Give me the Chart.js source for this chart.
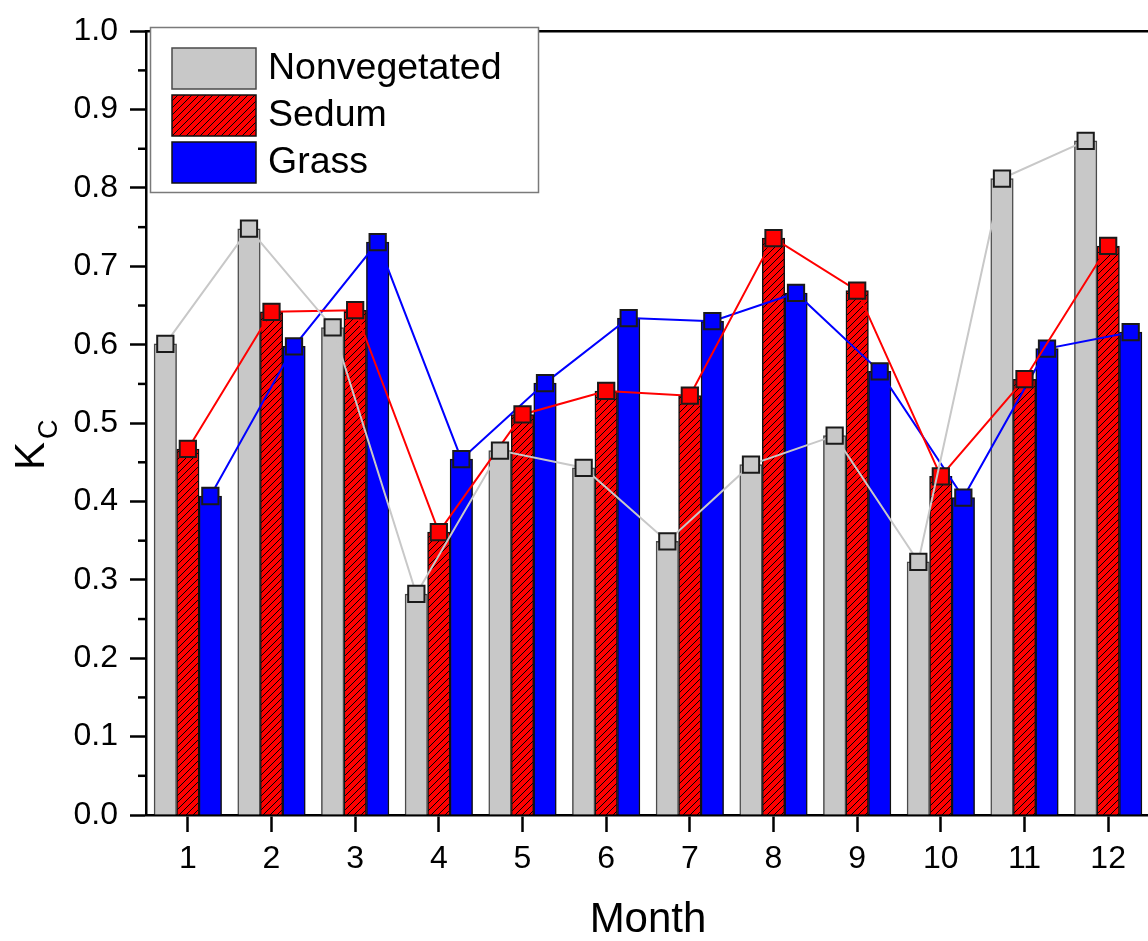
<!DOCTYPE html>
<html>
<head>
<meta charset="utf-8">
<script src="https://cdn.jsdelivr.net/npm/chart.js@4.4.0/dist/chart.umd.min.js"></script>
<style>
  html, body { margin: 0; padding: 0; background: #fff; overflow: hidden; }
  #wrap { position: relative; width: 1150px; height: 941px; }
</style>
</head>
<body>
<div id="wrap"><canvas id="c"></canvas></div>
<script>
// Monthly crop coefficient (Kc) for three roof covers
const months = ['1', '2', '3', '4', '5', '6', '7', '8', '9', '10', '11', '12'];
const seriesNames = ['Nonvegetated', 'Sedum', 'Grass'];
const nonvegetated = [0.601, 0.748, 0.622, 0.282, 0.465, 0.443, 0.349, 0.447, 0.484, 0.323, 0.812, 0.860];
const sedum        = [0.467, 0.642, 0.644, 0.361, 0.511, 0.541, 0.535, 0.736, 0.669, 0.432, 0.556, 0.726];
const grass        = [0.407, 0.598, 0.731, 0.454, 0.551, 0.634, 0.630, 0.666, 0.566, 0.405, 0.595, 0.616];
const yTitleMain = 'K';
const yTitleSub = 'C';
const xTitle = 'Month';

const FONT = "'Liberation Sans', Arial, sans-serif";
const BAR_UNIT = 0.269;   // one bar's width, in months; three bars side by side per month

const canvas = document.getElementById('c');
const ctx0 = canvas.getContext('2d');

// red fill with black "///" hatching
function hatchPattern() {
  const s = 7;
  const c = document.createElement('canvas');
  c.width = s; c.height = s;
  const g = c.getContext('2d');
  g.fillStyle = '#ff0000';
  g.fillRect(0, 0, s, s);
  g.strokeStyle = '#000';
  g.lineWidth = 1.0;
  g.beginPath();
  g.moveTo(0, s); g.lineTo(s, 0);
  g.moveTo(-1, 1); g.lineTo(1, -1);
  g.moveTo(s - 1, s + 1); g.lineTo(s + 1, s - 1);
  g.stroke();
  return ctx0.createPattern(c, 'repeat');
}
const hatch = hatchPattern();

const styles = [
  { fill: '#c8c8c8', edge: '#4a4a4a', line: '#c8c8c8', marker: '#c8c8c8' },
  { fill: hatch,     edge: '#111111', line: '#ff0000', marker: '#ff0000' },
  { fill: '#0000ff', edge: '#111111', line: '#0000ff', marker: '#0000ff' }
];
const series = [nonvegetated, sedum, grass];

// x position of series k in a given month (bars sit side by side, centred on the month)
const xOf = (i, k) => Number(months[i]) + (k - 1) * BAR_UNIT;

const barSets = series.map((vals, k) => ({
  type: 'bar',
  label: seriesNames[k],
  data: vals.map((v, i) => ({ x: xOf(i, k), y: v })),
  grouped: false,
  backgroundColor: styles[k].fill,
  borderColor: styles[k].edge,
  borderWidth: 1.5,
  categoryPercentage: 1.0,
  barPercentage: 1.0,
  order: 2
}));

const lineSets = series.map((vals, k) => ({
  type: 'line',
  label: seriesNames[k] + ' trend',
  data: vals.map((v, i) => ({ x: xOf(i, k), y: v })),
  borderColor: styles[k].line,
  borderWidth: 2,
  tension: 0,
  fill: false,
  pointStyle: 'rect',
  pointRadius: 11.5,
  pointHoverRadius: 11.5,
  pointBackgroundColor: styles[k].marker,
  pointBorderColor: '#1a1a1a',
  pointBorderWidth: 2,
  order: 1
}));

// in-plot legend, minor ticks, top frame line and the Kc title
const decorations = {
  id: 'decorations',
  afterDraw(chart) {
    const ctx = chart.ctx;
    const area = chart.chartArea;
    const y = chart.scales.y;

    ctx.save();
    // top frame
    ctx.strokeStyle = '#000';
    ctx.lineWidth = 2.5;
    ctx.beginPath();
    ctx.moveTo(area.left - 1.25, area.top);
    ctx.lineTo(area.right, area.top);
    ctx.stroke();

    // minor ticks on the y axis
    for (let v = 0.05; v < 1; v += 0.1) {
      const py = y.getPixelForValue(v);
      ctx.beginPath();
      ctx.moveTo(area.left - 8, py);
      ctx.lineTo(area.left, py);
      ctx.stroke();
    }

    // legend
    const bx = 150.5, by = 27.5, bw = 388, bh = 165;
    ctx.fillStyle = '#fff';
    ctx.fillRect(bx, by, bw, bh);
    ctx.strokeStyle = '#7a7a7a';
    ctx.lineWidth = 1.5;
    ctx.strokeRect(bx, by, bw, bh);
    const rows = [48, 95, 142];
    ctx.font = '37.5px ' + FONT;
    ctx.textBaseline = 'middle';
    ctx.textAlign = 'left';
    barSets.forEach((ds, k) => {
      const sy = rows[k];
      ctx.fillStyle = ds.backgroundColor;
      ctx.fillRect(172, sy, 84, 41);
      ctx.strokeStyle = ds.borderColor;
      ctx.lineWidth = 1.5;
      ctx.strokeRect(172, sy, 84, 41);
      ctx.fillStyle = '#000';
      ctx.fillText(ds.label, 268, sy + 21);
    });

    // y title: K with subscript C
    ctx.translate(44, 470);
    ctx.rotate(-Math.PI / 2);
    ctx.fillStyle = '#000';
    ctx.textBaseline = 'alphabetic';
    ctx.font = '42px ' + FONT;
    ctx.fillText(yTitleMain, 0, 0);
    const kw = ctx.measureText(yTitleMain).width;
    ctx.font = '27px ' + FONT;
    ctx.fillText(yTitleSub, kw + 3, 13);
    ctx.restore();
  }
};

new Chart(canvas, {
  type: 'bar',
  data: { datasets: [...lineSets, ...barSets] },
  options: {
    responsive: true,
    maintainAspectRatio: false,
    animation: false,
    layout: { autoPadding: false, padding: { top: 24, left: 0, right: 0, bottom: 0 } },
    plugins: { legend: { display: false }, tooltip: { enabled: false } },
    scales: {
      x: {
        type: 'linear',
        min: 0.5,
        max: 12.5,
        offset: false,
        afterBuildTicks(s) { s.ticks = months.map(m => ({ value: Number(m) })); },
        grid: { offset: false, drawOnChartArea: false, tickLength: 17, tickWidth: 2.5, tickColor: '#000' },
        border: { display: true, color: '#000', width: 2.5 },
        ticks: { color: '#000', font: { family: FONT, size: 32 }, padding: 8, maxRotation: 0,
                 callback: v => months[v - 1] },
        title: { display: true, text: xTitle, color: '#000', font: { family: FONT, size: 42, lineHeight: 1.0 }, padding: { top: 0, bottom: 0 } },
        afterFit(s) { s.height = 126; }
      },
      y: {
        min: 0,
        max: 1,
        ticks: { stepSize: 0.1, color: '#000', font: { family: FONT, size: 32 }, padding: 12, callback: v => v.toFixed(1) },
        grid: { drawOnChartArea: false, tickLength: 16, tickWidth: 2.5, tickColor: '#000' },
        border: { display: true, color: '#000', width: 2.5 },
        afterFit(s) { s.width = 146; }
      }
    }
  },
  plugins: [decorations]
});
</script>
</body>
</html>
